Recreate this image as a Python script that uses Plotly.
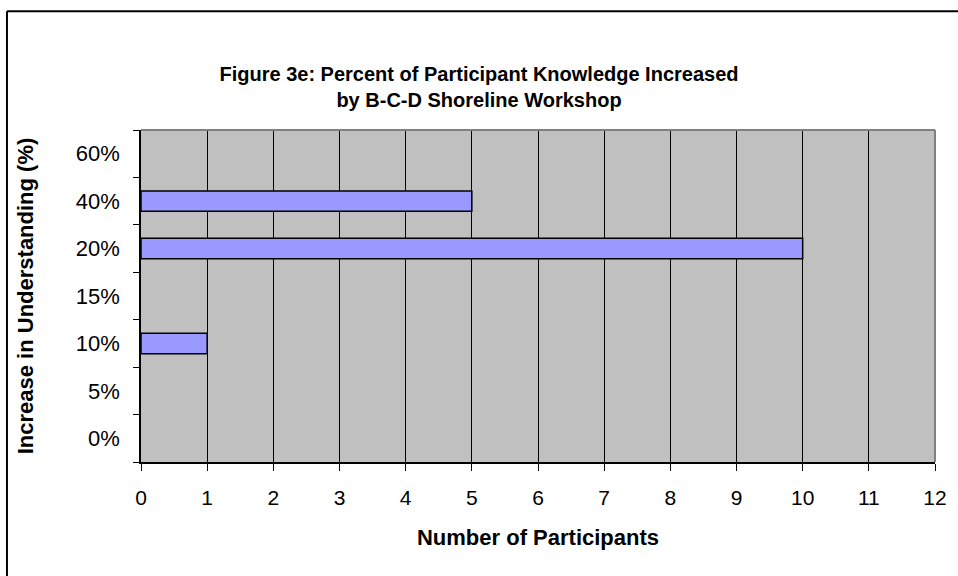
import plotly.graph_objects as go

categories = ["0%", "5%", "10%", "15%", "20%", "40%", "60%"]
participants = [0, 0, 1, 0, 10, 5, 0]
x_ticks = list(range(0, 13))

# empty categories have no bar at all (no outline at zero)
bar_values = [v if v else None for v in participants]

fig = go.Figure(
    go.Bar(
        x=bar_values,
        y=categories,
        orientation="h",
        marker=dict(color="#9999FF", line=dict(color="black", width=1.5)),
    )
)

font = "Liberation Sans, Arial, sans-serif"
fig.update_layout(
    width=958,
    height=576,
    margin=dict(l=141, r=23, t=130, b=114),
    paper_bgcolor="white",
    plot_bgcolor="#C0C0C0",
    bargap=0.57,
    showlegend=False,
    font=dict(family=font, color="black", size=21),
    title=dict(
        text="<b>Figure 3e: Percent of Participant Knowledge Increased<br>by B-C-D Shoreline Workshop</b>",
        x=0.5,
        xanchor="center",
        y=1 - 81 / 576,
        yanchor="middle",
        font=dict(size=20),
    ),
    shapes=[
        # chart frame (left and top edges visible)
        dict(type="line", xref="paper", yref="paper", x0=-0.1688, x1=1.04, y0=1.358, y1=1.358,
             line=dict(color="black", width=2)),
        dict(type="line", xref="paper", yref="paper", x0=-0.1688, x1=-0.1688, y0=1.358, y1=-0.36,
             line=dict(color="black", width=2)),
        # plot area border, top and right
        dict(type="line", xref="paper", yref="paper", x0=0, x1=1, y0=1, y1=1,
             line=dict(color="#808080", width=2)),
        dict(type="line", xref="paper", yref="paper", x0=1, x1=1, y0=0, y1=1,
             line=dict(color="#808080", width=2)),
    ],
)
fig.update_xaxes(
    range=[0, 12],
    tickvals=x_ticks,
    showgrid=True,
    gridcolor="black",
    gridwidth=1,
    showline=True,
    linecolor="black",
    linewidth=1.5,
    ticks="outside",
    ticklen=7,
    tickcolor="black",
    ticklabelstandoff=9,
    zeroline=False,
    title=dict(text="<b>Number of Participants</b>", font=dict(size=22), standoff=22),
)
fig.update_yaxes(
    categoryorder="array",
    categoryarray=categories,
    showgrid=False,
    showline=True,
    linecolor="black",
    linewidth=1.5,
    ticks="outside",
    tickson="boundaries",
    ticklen=6,
    tickcolor="black",
    ticklabelstandoff=15,
    tickfont=dict(size=22),
    title=dict(text="<b>Increase in Understanding (%)</b>", font=dict(size=22), standoff=36),
)

fig.write_html(
    "out.html",
    config={"displayModeBar": False},
    post_script="document.body.style.margin='0';",
)
